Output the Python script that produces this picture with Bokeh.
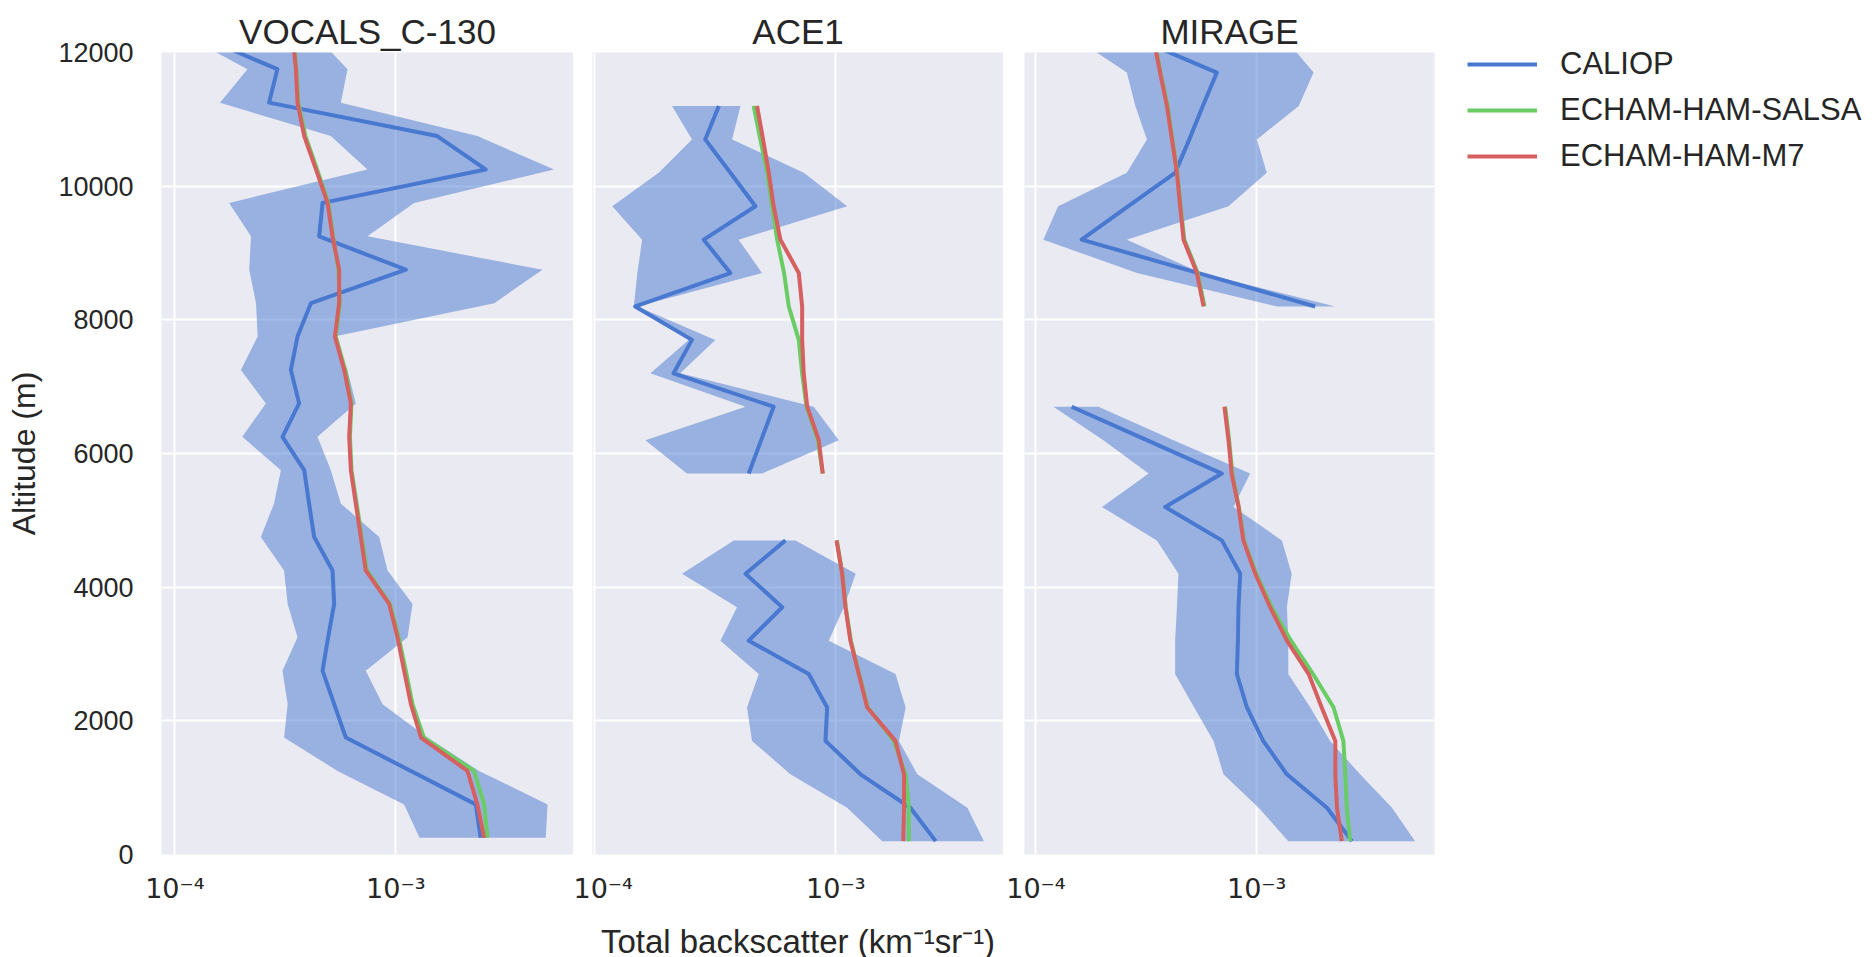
import numpy as np
from bokeh.plotting import figure
from bokeh.layouts import row
from bokeh.models import Range1d, FixedTicker, Legend, LegendItem
from bokeh.embed import file_html
from bokeh.resources import INLINE

nan = np.nan

# ---------------- data (backscatter in km^-1 sr^-1, altitude in m) ----------------
panel_titles = ["VOCALS_C-130", "ACE1", "MIRAGE"]
series_names = ["CALIOP", "ECHAM-HAM-SALSA", "ECHAM-HAM-M7"]

# VOCALS_C-130
alt_v = [250, 750, 1250, 1750, 2250, 2750, 3250, 3750, 4250, 4750, 5250, 5750, 6250,
         6750, 7250, 7750, 8250, 8750, 9250, 9750, 10250, 10750, 11250, 11750, 12250]
caliop_v = [2.42e-3, 2.30e-3, 1.17e-3, 5.94e-4, 5.26e-4, 4.66e-4, 4.94e-4, 5.26e-4, 5.17e-4,
            4.27e-4, 4.05e-4, 3.85e-4, 3.07e-4, 3.65e-4, 3.35e-4, 3.59e-4, 4.13e-4, 1.11e-3,
            4.50e-4, 4.66e-4, 2.55e-3, 1.54e-3, 2.67e-4, 2.91e-4, 1.29e-4]
caliop_lo_v = [1.28e-3, 1.09e-3, 5.45e-4, 3.12e-4, 3.24e-4, 3.07e-4, 3.59e-4, 3.24e-4, 3.12e-4,
               2.45e-4, 2.81e-4, 3.02e-4, 2.02e-4, 2.58e-4, 1.99e-4, 2.37e-4, 2.33e-4, 2.17e-4,
               2.21e-4, 1.76e-4, 7.44e-4, 5.08e-4, 1.60e-4, 2.13e-4, 1.12e-4]
caliop_hi_v = [4.77e-3, 4.86e-3, 2.38e-3, 1.39e-3, 8.71e-4, 7.31e-4, 1.13e-3, 1.19e-3, 9.17e-4,
               8.41e-4, 5.64e-4, 5.08e-4, 4.42e-4, 6.59e-4, 6.04e-4, 5.26e-4, 2.79e-3, 4.61e-3,
               7.44e-4, 1.21e-3, 5.20e-3, 2.34e-3, 5.64e-4, 6.04e-4, 4.35e-4]
salsa_v = [2.60e-3, 2.51e-3, 2.26e-3, 1.34e-3, 1.19e-3, 1.11e-3, 1.03e-3, 9.40e-4, 7.40e-4,
           7.00e-4, 6.65e-4, 6.30e-4, 6.20e-4, 6.30e-4, 5.90e-4, 5.35e-4, 5.58e-4, 5.50e-4,
           5.20e-4, 4.95e-4, 4.40e-4, 3.90e-4, 3.62e-4, 3.55e-4, 3.43e-4]
m7_v = [2.51e-3, 2.34e-3, 2.11e-3, 1.30e-3, 1.17e-3, 1.09e-3, 1.018e-3, 9.33e-4, 7.31e-4,
        6.94e-4, 6.59e-4, 6.26e-4, 6.15e-4, 6.26e-4, 5.84e-4, 5.30e-4, 5.54e-4, 5.54e-4,
        5.17e-4, 4.91e-4, 4.35e-4, 3.85e-4, 3.59e-4, 3.53e-4, 3.41e-4]

# ACE1
alt_a = [200, 700, 1200, 1700, 2200, 2700, 3200, 3700, 4200, 4700, 5200, 5700, 6200,
         6700, 7200, 7700, 8200, 8700, 9200, 9700, 10200, 10700, 11200]
caliop_a = [2.60e-3, 2.04e-3, 1.267e-3, 9.06e-4, 9.21e-4, 7.72e-4, 4.35e-4, 5.99e-4, 4.22e-4,
            6.18e-4, nan, 4.35e-4, 4.90e-4, 5.52e-4, 2.12e-4, 2.53e-4, 1.47e-4, 3.65e-4,
            2.83e-4, 4.64e-4, 3.65e-4, 2.87e-4, 3.27e-4]
caliop_lo_a = [1.56e-3, 1.115e-3, 6.48e-4, 4.49e-4, 4.28e-4, 4.79e-4, 3.32e-4, 3.89e-4, 2.30e-4,
               3.77e-4, nan, 2.41e-4, 1.62e-4, 4.22e-4, 1.70e-4, 2.45e-4, 1.45e-4, 1.50e-4,
               1.57e-4, 1.18e-4, 1.84e-4, 2.53e-4, 2.09e-4]
caliop_hi_a = [4.12e-3, 3.52e-3, 2.18e-3, 1.83e-3, 1.95e-3, 1.77e-3, 9.35e-4, 1.08e-3, 1.21e-3,
               6.80e-4, nan, 4.94e-4, 1.03e-3, 8.10e-4, 2.26e-4, 3.16e-4, 1.50e-4, 4.94e-4,
               3.95e-4, 1.115e-3, 7.36e-4, 3.71e-4, 4.02e-4]
salsa_a = [2.01e-3, 2.01e-3, 1.95e-3, 1.74e-3, 1.36e-3, 1.25e-3, 1.155e-3, 1.10e-3, 1.065e-3,
           1.01e-3, nan, 8.83e-4, 8.42e-4, 7.56e-4, 7.25e-4, 7.02e-4, 6.38e-4, 6.10e-4,
           5.71e-4, 5.44e-4, 5.19e-4, 4.86e-4, 4.56e-4]
m7_a = [1.905e-3, 1.92e-3, 1.92e-3, 1.77e-3, 1.35e-3, 1.246e-3, 1.15e-3, 1.097e-3, 1.063e-3,
        1.007e-3, nan, 8.83e-4, 8.50e-4, 7.61e-4, 7.36e-4, 7.25e-4, 7.25e-4, 7.02e-4,
        5.89e-4, 5.52e-4, 5.27e-4, 4.99e-4, 4.71e-4]

# MIRAGE
alt_m = [200, 700, 1200, 1700, 2200, 2700, 3200, 3700, 4200, 4700, 5200, 5700, 6200,
         6700, 7200, 7700, 8200, 8700, 9200, 9700, 10200, 10700, 11200, 11700, 12200]
caliop_m = [2.70e-3, 2.08e-3, 1.37e-3, 1.07e-3, 9.03e-4, 8.13e-4, 8.22e-4, 8.27e-4, 8.42e-4,
            6.95e-4, 3.85e-4, 6.95e-4, 3.18e-4, 1.45e-4, nan, nan, 1.84e-3, 5.45e-4,
            1.61e-4, 2.62e-4, 4.27e-4, 4.95e-4, 5.70e-4, 6.60e-4, 2.90e-4]
caliop_lo_m = [1.39e-3, 1.02e-3, 7.07e-4, 6.37e-4, 5.21e-4, 4.27e-4, 4.27e-4, 4.35e-4, 4.42e-4,
               3.53e-4, 1.99e-4, 3.24e-4, 2.02e-4, 1.20e-4, nan, nan, 1.235e-3, 2.87e-4,
               1.08e-4, 1.26e-4, 2.58e-4, 3.18e-4, 2.82e-4, 2.58e-4, 1.53e-4]
caliop_hi_m = [5.22e-3, 4.10e-3, 2.94e-3, 2.15e-3, 1.75e-3, 1.39e-3, 1.39e-3, 1.37e-3, 1.44e-3,
               1.30e-3, 7.85e-4, 9.34e-4, 4.20e-4, 1.92e-4, nan, nan, 2.27e-3, 5.60e-4,
               2.58e-4, 7.45e-4, 1.11e-3, 1.002e-3, 1.55e-3, 1.81e-3, 1.35e-3]
salsa_m = [2.65e-3, 2.56e-3, 2.52e-3, 2.47e-3, 2.23e-3, 1.80e-3, 1.43e-3, 1.17e-3, 9.95e-4,
           8.75e-4, 8.30e-4, 7.75e-4, 7.50e-4, 7.20e-4, nan, nan, 5.80e-4, 5.40e-4,
           4.70e-4, 4.52e-4, 4.37e-4, 4.15e-4, 3.95e-4, 3.67e-4, 3.43e-4]
m7_m = [2.43e-3, 2.31e-3, 2.27e-3, 2.27e-3, 1.97e-3, 1.72e-3, 1.37e-3, 1.15e-3, 9.85e-4,
        8.70e-4, 8.27e-4, 7.70e-4, 7.45e-4, 7.14e-4, nan, nan, 5.74e-4, 5.36e-4,
        4.66e-4, 4.50e-4, 4.35e-4, 4.13e-4, 3.92e-4, 3.65e-4, 3.41e-4]

y_ticks = [0, 2000, 4000, 6000, 8000, 10000, 12000]
x_ticks = [1e-4, 1e-3]
x_tick_labels = ["10\u207b\u2074", "10\u207b\u00b3"]
x_label = "Total backscatter (km\u207b\u00b9sr\u207b\u00b9)"
y_label = "Altitude (m)"

# ---------------- style ----------------
BG = "#EAEAF2"
TXT = "#262626"
C_CAL = "#4878D0"
C_SALSA = "#6ACC64"
C_M7 = "#D65F5F"
FONT = "Liberation Sans"
LW = 4

x_limits = [(8.70e-5, 6.37e-3), (9.77e-5, 4.97e-3), (8.87e-5, 6.39e-3)]
frame_w = [412, 411, 410]
border_l = [161, 19, 21]
border_r = [0, 0, 440]


def runs(alt, lo, hi):
    """split the band into contiguous runs without missing values"""
    out, cur = [], ([], [], [])
    for a, l, h in zip(alt, lo, hi):
        if np.isnan(l) or np.isnan(h):
            if cur[0]:
                out.append(cur)
            cur = ([], [], [])
        else:
            cur[0].append(a); cur[1].append(l); cur[2].append(h)
    if cur[0]:
        out.append(cur)
    return out


def make_panel(i, alt, cal, lo, hi, salsa, m7):
    p = figure(x_axis_type="log", x_range=Range1d(*x_limits[i]), y_range=Range1d(0, 12000),
               frame_width=frame_w[i], frame_height=802,
               min_border_left=border_l[i], min_border_right=border_r[i],
               min_border_top=52, min_border_bottom=103,
               output_backend="svg", toolbar_location=None,
               background_fill_color=BG, border_fill_color="white",
               outline_line_color=None, title=panel_titles[i])
    p.title.text_font = FONT
    p.title.text_font_size = "35px"
    p.title.text_font_style = "normal"
    p.title.text_color = TXT
    p.title.align = "center"
    p.title.standoff = 4

    p.xaxis.ticker = FixedTicker(ticks=x_ticks, minor_ticks=[])
    p.xaxis.major_label_overrides = {t: s for t, s in zip(x_ticks, x_tick_labels)}
    p.xaxis.major_label_text_font = "DejaVu Sans"
    p.xaxis.major_label_text_font_size = "27px"
    p.xaxis.major_label_text_color = TXT
    p.xaxis.major_label_standoff = 12
    p.xgrid.ticker = FixedTicker(ticks=x_ticks)
    p.ygrid.ticker = FixedTicker(ticks=y_ticks)
    for ax in (p.xaxis, p.yaxis):
        ax.axis_line_color = None
        ax.major_tick_line_color = None
        ax.minor_tick_line_color = None
    for g in (p.xgrid, p.ygrid):
        g.grid_line_color = "white"
        g.grid_line_width = 2
    p.xgrid.minor_grid_line_color = None

    if i == 0:
        p.yaxis.ticker = FixedTicker(ticks=y_ticks, minor_ticks=[])
        p.yaxis.major_label_text_font = FONT
        p.yaxis.major_label_text_font_size = "27px"
        p.yaxis.major_label_text_color = TXT
        p.yaxis.major_label_standoff = 22
        p.yaxis.axis_label = y_label
        p.yaxis.axis_label_text_font = FONT
        p.yaxis.axis_label_text_font_size = "32px"
        p.yaxis.axis_label_text_font_style = "normal"
        p.yaxis.axis_label_text_color = TXT
        p.yaxis.axis_label_standoff = 13
    else:
        p.yaxis.visible = False

    if i == 1:
        p.xaxis.axis_label = x_label
        p.xaxis.axis_label_text_font = FONT
        p.xaxis.axis_label_text_font_size = "33px"
        p.xaxis.axis_label_text_font_style = "normal"
        p.xaxis.axis_label_text_color = TXT
        p.xaxis.axis_label_standoff = 16

    for a, l, h in runs(alt, lo, hi):
        p.harea(x1=l, x2=h, y=a, fill_color=C_CAL, fill_alpha=0.5)
    r_cal = p.line(cal, alt, line_color=C_CAL, line_width=LW, line_join="round")
    r_salsa = p.line(salsa, alt, line_color=C_SALSA, line_width=LW, line_join="round")
    r_m7 = p.line(m7, alt, line_color=C_M7, line_width=LW, line_join="round")
    return p, [r_cal, r_salsa, r_m7]


p1, _ = make_panel(0, alt_v, caliop_v, caliop_lo_v, caliop_hi_v, salsa_v, m7_v)
p2, _ = make_panel(1, alt_a, caliop_a, caliop_lo_a, caliop_hi_a, salsa_a, m7_a)
p3, rs = make_panel(2, alt_m, caliop_m, caliop_lo_m, caliop_hi_m, salsa_m, m7_m)

legend = Legend(items=[LegendItem(label=n, renderers=[r]) for n, r in zip(series_names, rs)],
                location=(33, 680), glyph_width=70, glyph_height=36, label_height=36,
                spacing=10, padding=0, margin=0, label_standoff=23,
                label_text_font=FONT, label_text_font_size="31px", label_text_color=TXT,
                background_fill_alpha=0, border_line_alpha=0)
p3.add_layout(legend, "right")

layout = row(p1, p2, p3)
open("out.html", "w").write(file_html(layout, INLINE))
